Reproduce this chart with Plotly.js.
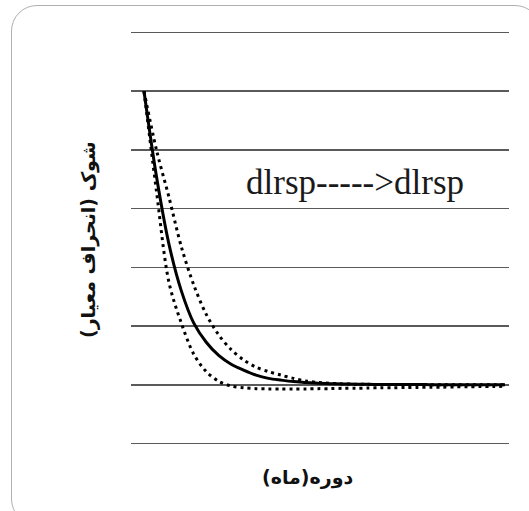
<!DOCTYPE html>
<html>
<head>
<meta charset="utf-8">
<script src="https://cdn.plot.ly/plotly-3.0.1.min.js"></script>
<style>
  html, body { margin: 0; padding: 0; background: #fff; }
  #wrap { position: relative; width: 529px; height: 511px; overflow: hidden; }
  #frame { position: absolute; left: 11px; top: 5px; width: 530px; height: 520px;
           border: 1px solid #b0b0b0; border-radius: 26px; box-sizing: border-box; }
  #chart { position: absolute; left: 0; top: 0; width: 529px; height: 511px; }
</style>
</head>
<body>
<div id="wrap">
  <div id="frame"></div>
  <div id="chart"></div>
</div>
<script>
// Periods (months)
const periods = [1,2,3,4,5,6,7,8,9,10,11,12,13,14,15,16,17,18,19,20,21,22,23,24,25,26,27,28,29,30];
// Impulse response (solid)
const response = [1.0,0.71,0.48,0.32,0.21,0.145,0.10,0.07,0.05,0.033,0.022,0.016,0.011,0.008,0.005,0.004,0.003,0.002,0.0015,0.001,0.001,0.001,0.0008,0.0006,0.0005,0.0004,0.0003,0.0002,0.0001,0.0];
// Upper confidence band (dotted)
const upper = [1.0,0.80,0.64,0.47,0.34,0.24,0.17,0.12,0.085,0.06,0.045,0.033,0.022,0.013,0.008,0.005,0.003,0.002,0.0015,0.001,0.001,0.001,0.0008,0.0006,0.0005,0.0004,0.0003,0.0002,0.0001,0.0];
// Lower confidence band (dotted)
const lower = [1.0,0.66,0.35,0.21,0.104,0.045,0.012,-0.004,-0.01,-0.013,-0.014,-0.014,-0.014,-0.014,-0.013,-0.013,-0.012,-0.012,-0.011,-0.01,-0.01,-0.009,-0.009,-0.008,-0.008,-0.007,-0.007,-0.006,-0.006,-0.005];
const gridValues = [-0.2,0,0.2,0.4,0.6,0.8,1.0,1.2];
const yTitle = 'شوک (انحراف معیار)';
const xTitle = 'دوره(ماه)';
const label = 'dlrsp----->dlrsp';

const traces = [
  {x: periods, y: upper, mode: 'lines', line: {color: '#000', width: 3, dash: '3px,4px', shape: 'spline', smoothing: 0.9}, hoverinfo: 'skip'},
  {x: periods, y: lower, mode: 'lines', line: {color: '#000', width: 3, dash: '3px,4px', shape: 'spline', smoothing: 0.9}, hoverinfo: 'skip'},
  {x: periods, y: response, mode: 'lines', line: {color: '#000', width: 3, shape: 'spline', smoothing: 0.9}, hoverinfo: 'skip'}
];

const arabicFont = {family: 'DejaVu Sans', size: 19, color: '#111', weight: 'bold'};

const layout = {
  width: 529, height: 511,
  margin: {l: 131, r: 20, t: 31, b: 66},
  paper_bgcolor: 'rgba(0,0,0,0)',
  plot_bgcolor: 'rgba(0,0,0,0)',
  showlegend: false,
  xaxis: {
    range: [-0.044, 30.32], showgrid: false, zeroline: false, showline: false,
    showticklabels: false, ticks: ''
  },
  yaxis: {
    range: [-0.205, 1.205], tickvals: gridValues, showgrid: true, gridcolor: '#5a5a5a', gridwidth: 1.5,
    zeroline: false, showline: false, showticklabels: false, ticks: ''
  },
  annotations: [
    {
      xref: 'paper', yref: 'paper', x: 0.593, y: 0.633, xanchor: 'center', yanchor: 'middle',
      text: label, showarrow: false,
      font: {family: 'Liberation Serif', size: 35, color: '#1a1a1a'}
    },
    {
      xref: 'paper', yref: 'paper', x: (307 - 131) / 378, y: -(478 - 445) / 414,
      xanchor: 'center', yanchor: 'middle', text: xTitle, showarrow: false, font: arabicFont
    },
    {
      xref: 'paper', yref: 'paper', x: -(131 - 88) / 378, y: (445 - 240) / 414,
      xanchor: 'center', yanchor: 'middle', textangle: -90, text: yTitle, showarrow: false, font: arabicFont
    }
  ]
};

Plotly.newPlot('chart', traces, layout, {displayModeBar: false, staticPlot: true});
</script>
</body>
</html>
